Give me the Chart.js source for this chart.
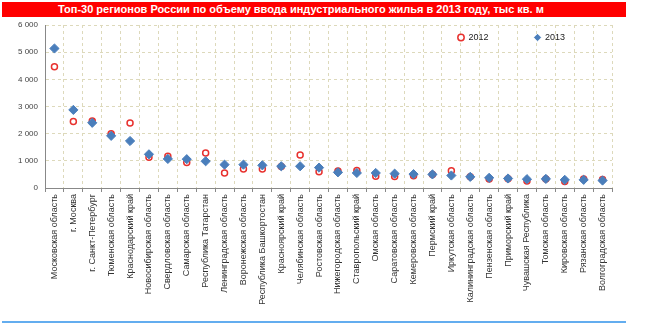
<!DOCTYPE html>
<html>
<head>
<meta charset="utf-8">
<script src="https://cdn.jsdelivr.net/npm/chart.js@4.4.0/dist/chart.umd.min.js"></script>
<style>
  html, body { margin: 0; padding: 0; background: #fff; }
  #wrap { position: relative; width: 656px; height: 325px; }
  #chart { position: absolute; left: 0; top: 0; }
  #title {
    position: absolute; left: 2px; top: 2px; width: 624px; height: 15px;
    background: #ff0000; color: #fff; box-sizing: border-box; padding-left: 56px;
    font: bold 11px "Liberation Sans", Arial, sans-serif; line-height: 15px; white-space: nowrap;
  }
  #bottomLine { position: absolute; left: 2px; top: 321px; width: 624px; height: 2px; background: #63adef; }
</style>
</head>
<body>
<div id="wrap">
  <canvas id="chart" width="656" height="325"></canvas>
  <div id="title">Топ-30 регионов России по объему ввода индустриального жилья в 2013 году, тыс кв. м</div>
  <div id="bottomLine"></div>
</div>
<script>
// === данные ===
const regions = [
  "Московская область", "г. Москва", "г. Санкт-Петербург", "Тюменская область",
  "Краснодарский край", "Новосибирская область", "Свердловская область", "Самарская область",
  "Республика Татарстан", "Ленинградская область", "Воронежская область", "Республика Башкортостан",
  "Красноярский край", "Челябинская область", "Ростовская область", "Нижегородская область",
  "Ставропольский край", "Омская область", "Саратовская область", "Кемеровская область",
  "Пермский край", "Иркутская область", "Калининградская область", "Пензенская область",
  "Приморский край", "Чувашская Республика", "Томская область", "Кировская область",
  "Рязанская область", "Волгоградская область"
];
const values2012 = [4460, 2445, 2470, 2000, 2395, 1130, 1170, 935, 1290, 550,
  700, 700, 790, 1215, 600, 625, 640, 430, 420, 455,
  500, 635, 410, 335, 345, 260, 335, 235, 335, 310];
const values2013 = [5135, 2875, 2400, 1920, 1730, 1240, 1070, 1060, 985, 860,
  860, 835, 800, 800, 750, 577, 553, 553, 528, 510,
  500, 460, 410, 375, 350, 325, 335, 300, 300, 275];
const yTicks = [0, 1000, 2000, 3000, 4000, 5000, 6000];

const FONT = "'Liberation Sans', Arial, sans-serif";

// легенда внутри области графика
const legendPlace = {
  id: "legendPlace",
  beforeDraw(chart) {
    const lg = chart.legend;
    if (!lg) return;
    const pad = lg.options.labels.padding;
    const bw = lg.options.labels.boxWidth;
    const left = 461 - bw / 2 - pad;
    lg.left = left;
    lg.right = left + 300;
    lg.top = 37.5 - 4.5 - pad;
    lg.bottom = lg.top + 2 * pad + 12;
  }
};

new Chart(document.getElementById("chart"), {
  type: "scatter",
  data: {
    labels: regions,
    datasets: [
      {
        label: "2013",
        data: values2013,
        pointStyle: "rectRot",
        pointRadius: 4.6,
        backgroundColor: "#4a7ebb",
        borderColor: "#4a7ebb",
        borderWidth: 1,
        showLine: false
      },
      {
        label: "2012",
        data: values2012,
        pointStyle: "circle",
        pointRadius: 3,
        backgroundColor: "#ffffff",
        borderColor: "#e8322f",
        borderWidth: 1.5,
        showLine: false
      }
    ]
  },
  plugins: [legendPlace],
  options: {
    responsive: false,
    animation: false,
    layout: { padding: { left: 0, right: 44, top: 24, bottom: 0 } },
    plugins: {
      tooltip: { enabled: false },
      legend: {
        position: "top",
        align: "start",
        reverse: true,
        maxHeight: 1,
        labels: {
          usePointStyle: true,
          boxWidth: 6,
          boxHeight: 4.5,
          padding: 46,
          color: "#222",
          font: { family: FONT, size: 9 }
        }
      }
    },
    scales: {
      x: {
        type: "category",
        labels: regions,
        offset: true,
        afterFit: (s) => { s.height = 137; },
        grid: {
          offset: true,
          color: "#ddd9bb",
          tickColor: "#888",
          tickLength: 4,
          tickBorderDash: []
        },
        border: { display: true, color: "#888", width: 1, dash: [3, 3] },
        ticks: {
          autoSkip: false,
          minRotation: 90,
          maxRotation: 90,
          padding: 2,
          color: "#333",
          font: { family: FONT, size: 9 }
        }
      },
      y: {
        min: 0,
        max: 6000,
        afterFit: (s) => { s.width = 45; },
        afterBuildTicks: (s) => { s.ticks = yTicks.map((v) => ({ value: v })); },
        grid: { color: "#ddd9bb", drawTicks: false },
        border: { display: true, color: "#888", width: 1, dash: [3, 3] },
        ticks: {
          padding: 7,
          color: "#444",
          font: { family: FONT, size: 8 },
          callback: (v) => String(v).replace(/\B(?=(\d{3})+(?!\d))/g, " ")
        }
      }
    }
  }
});
</script>
</body>
</html>
